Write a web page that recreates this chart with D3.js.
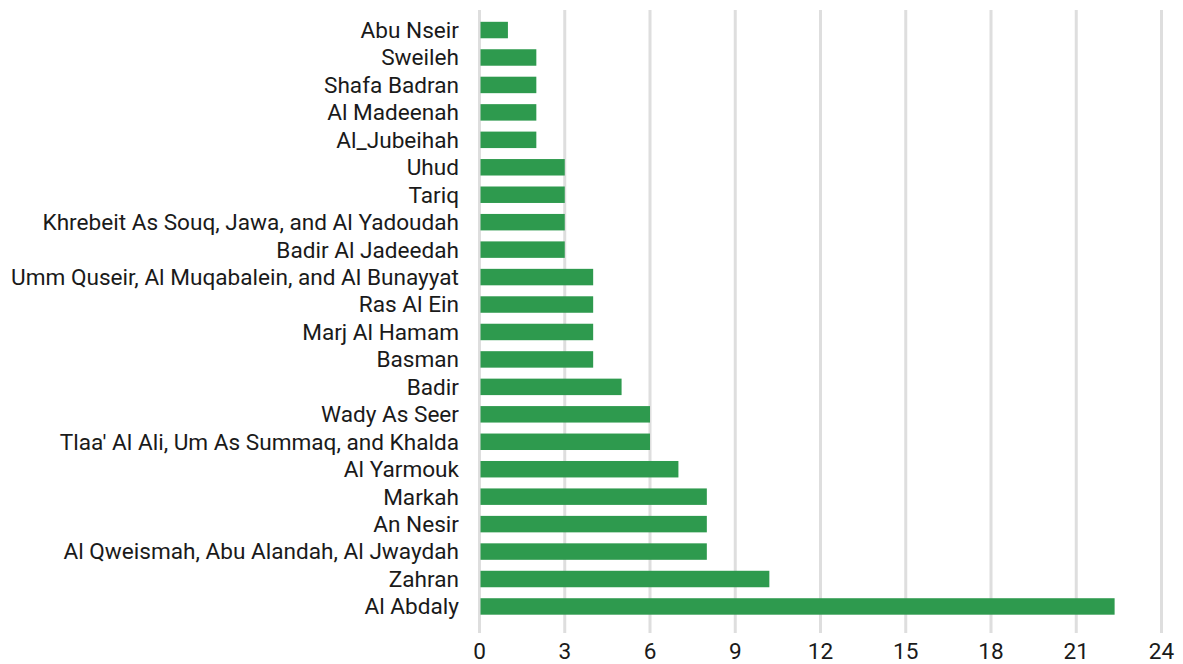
<!DOCTYPE html>
<html>
<head>
<meta charset="utf-8">
<script src="https://cdn.jsdelivr.net/npm/d3@7"></script>
<style>
  body { margin: 0; background: #fff; }
  svg { display: block; font-family: Roboto, sans-serif; }
</style>
</head>
<body>
<svg id="chart" width="1183" height="664"></svg>
<script>
var districts = ["Abu Nseir", "Sweileh", "Shafa Badran", "Al Madeenah", "Al_Jubeihah", "Uhud", "Tariq",
    "Khrebeit As Souq, Jawa, and Al Yadoudah", "Badir Al Jadeedah", "Umm Quseir, Al Muqabalein, and Al Bunayyat",
    "Ras Al Ein", "Marj Al Hamam", "Basman", "Badir", "Wady As Seer", "Tlaa' Al Ali, Um As Summaq, and Khalda",
    "Al Yarmouk", "Markah", "An Nesir", "Al Qweismah, Abu Alandah, Al Jwaydah", "Zahran", "Al Abdaly"];
var counts = [1, 2, 2, 2, 2, 3, 3, 3, 3, 4, 4, 4, 4, 5, 6, 6, 7, 8, 8, 8, 10.2, 22.35];
var ticks = [0, 3, 6, 9, 12, 15, 18, 21, 24];

var svg = d3.select("#chart");

var x = d3.scaleLinear().domain([0, 24]).range([479.5, 1161.5]),
    y = d3.scaleBand().domain(districts).range([10, 626.5]).paddingInner(0.4).paddingOuter(0.43);

// grid
svg.append("g").selectAll("line")
    .data(ticks)
    .enter().append("line")
    .attr("x1", function (d) { return x(d); })
    .attr("x2", function (d) { return x(d); })
    .attr("y1", 10)
    .attr("y2", 633)
    .attr("stroke", "#dedede")
    .attr("stroke-width", 3);

// bars
svg.append("g").selectAll("rect")
    .data(counts)
    .enter().append("rect")
    .attr("x", x(0) + 1)
    .attr("y", function (d, i) { return y(districts[i]); })
    .attr("width", function (d) { return x(d) - x(0) - 1; })
    .attr("height", y.bandwidth())
    .attr("fill", "#2e9a4e");

// category labels
svg.append("g").selectAll("text")
    .data(districts)
    .enter().append("text")
    .attr("x", 459)
    .attr("y", function (d) { return y(d) + y.bandwidth() / 2; })
    .attr("dy", "0.35em")
    .attr("text-anchor", "end")
    .attr("font-size", 22.6)
    .attr("fill", "#1a1a1a")
    .text(function (d) { return d; });

// x tick labels
svg.append("g").selectAll("text")
    .data(ticks)
    .enter().append("text")
    .attr("x", function (d) { return x(d); })
    .attr("y", 651)
    .attr("dy", "0.35em")
    .attr("text-anchor", "middle")
    .attr("font-size", 22.6)
    .attr("fill", "#1a1a1a")
    .text(function (d) { return d; });
</script>
</body>
</html>
